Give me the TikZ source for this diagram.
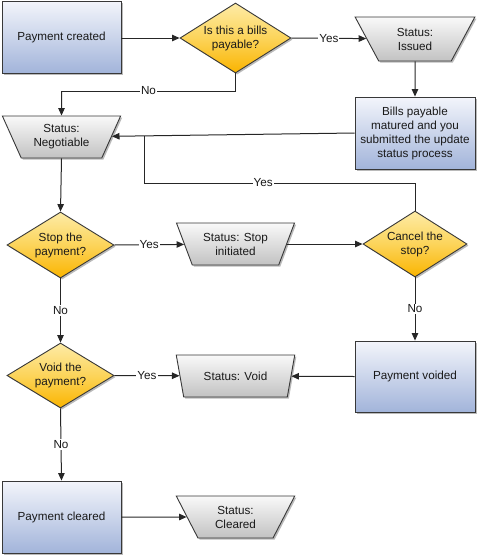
\documentclass[tikz,border=0pt]{standalone}
\usepackage{fontspec}
\setmainfont{Liberation Sans}
\usetikzlibrary{shapes.geometric,arrows.meta,shadows}
\definecolor{boxtop}{HTML}{F3F5FB}
\definecolor{boxbot}{HTML}{A2B4DA}
\definecolor{dtop}{HTML}{FDEBA6}
\definecolor{dmid}{HTML}{FCD45A}
\definecolor{dbot}{HTML}{FAB400}
\definecolor{ttop}{HTML}{F9F9F9}
\definecolor{tbot}{HTML}{C2C2C2}
\definecolor{edge}{HTML}{383838}
\begin{document}
\begin{tikzpicture}[x=1pt,y=-1pt,
  font=\fontsize{11.7}{14}\selectfont,
  shad/.style={drop shadow={shadow xshift=1.6pt,shadow yshift=-1.6pt,fill=black!45,opacity=0.6}},
  box/.style={rectangle, draw=edge, line width=0.9pt, top color=boxtop, bottom color=boxbot,
    minimum width=119pt, minimum height=72pt, align=center, inner sep=2pt, text=black!90, shad},
  dec/.style={diamond, draw=edge, line width=0.9pt, top color=dtop, bottom color=dbot, middle color=dmid,
    minimum width=107pt, minimum height=66pt, inner sep=0pt, aspect=1.6, align=center, text=black!90, shad},
  stat/.style={trapezium, trapezium stretches=true, shape border rotate=180, trapezium angle=62,
    draw=edge, line width=0.9pt, top color=ttop, bottom color=tbot,
    minimum width=119pt, minimum height=42pt, inner sep=0pt, align=center, text=black!90, shad},
  conn/.style={line width=1pt, draw=black!85, -{Triangle[length=7.5pt,width=6.5pt]}},
  plain/.style={line width=1pt, draw=black!85},
  lab/.style={fill=white, inner sep=1pt, text=black!90}]
\useasboundingbox (0,0) rectangle (480,558);

\node[box] (pc) at (61.5,37) {Payment created};
\node[dec, minimum width=111pt, minimum height=70pt] (d1) at (235.5,38) {Is this a bills\\payable?};
\node[stat, minimum width=120pt, minimum height=44pt] (issued) at (415,39) {Status:\\Issued};
\node[box, minimum width=120pt] (bills) at (415,133) {Bills payable\\matured and you\\submitted the update\\status process};
\node[stat] (neg) at (61.5,137) {Status:\\Negotiable};
\node[dec] (stop) at (60.5,245) {Stop the\\payment?};
\node[stat] (stopinit) at (235.5,244) {Status: Stop\\initiated};
\node[dec, minimum width=104pt] (cancel) at (415,244) {Cancel the\\stop?};
\node[box, minimum width=120pt, minimum height=71pt] (voided) at (415,376.5) {Payment voided};
\node[dec, minimum height=65pt] (void) at (60.5,375.5) {Void the\\payment?};
\node[stat] (svoid) at (235.5,376) {Status: Void};
\node[box] (cleared) at (61.5,517) {Payment cleared};
\node[stat] (scleared) at (235.5,517) {Status:\\Cleared};

\coordinate (nocorner) at (61.5,91);
\coordinate (yesup) at (144,183);
\coordinate (yesjoin) at (144,135.5);

\draw[conn] (pc.east |- d1.west) -- (d1.west);
\draw[conn] (d1.east) -- node[lab] {Yes} (issued);
\draw[conn] (issued.south) -- (bills.north);
\draw[plain] (d1.south) |- node[lab, pos=0.75] {No} (nocorner);
\draw[conn] (nocorner) -- (neg.north);
\draw[conn] (bills.west) -- (neg);
\draw[plain] (cancel.north) |- node[lab, pos=0.78] {Yes} (yesup) -- (yesjoin);
\draw[conn] (neg.south) -- (stop.north);
\draw[conn] (stop.east) -- node[lab] {Yes} (stopinit);
\draw[conn] (stopinit) -- (cancel.west);
\draw[conn] (cancel.south) -- node[lab] {No} (voided.north);
\draw[conn] (voided.west) -- (svoid);
\draw[conn] (stop.south) -- node[lab] {No} (void.north);
\draw[conn] (void.east) -- node[lab] {Yes} (svoid);
\draw[conn] (void.south) -- node[lab] {No} (cleared.north);
\draw[conn] (cleared.east) -- (scleared);
\end{tikzpicture}
\end{document}
